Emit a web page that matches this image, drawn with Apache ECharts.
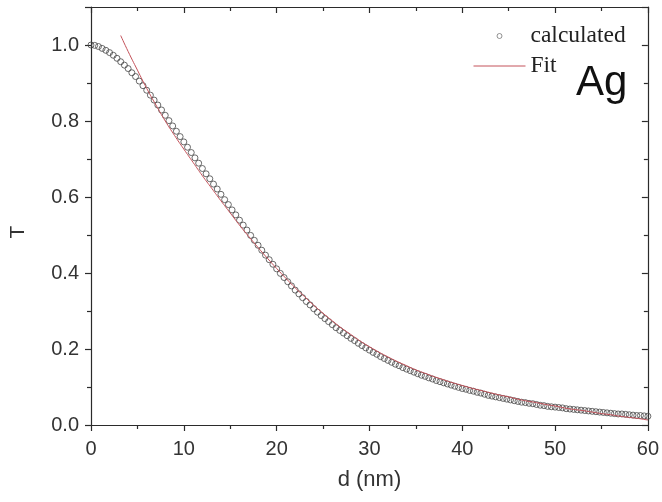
<!DOCTYPE html>
<html>
<head>
<meta charset="utf-8">
<title>T vs d — Ag</title>
<script src="https://cdn.jsdelivr.net/npm/echarts@6/dist/echarts.min.js"></script>
<style>
  html, body { margin: 0; padding: 0; background: #ffffff; }
  #chart { width: 662px; height: 502px; }
</style>
</head>
<body>
<div id="chart"></div>
<script>
// Calculated transmission T against film thickness d (nm)
const dCalc = [
  0.0, 0.4, 0.8, 1.2, 1.6, 2.0, 2.4, 2.8, 3.2, 3.6,
  4.0, 4.4, 4.8, 5.2, 5.6, 6.0, 6.4, 6.8, 7.2, 7.6,
  8.0, 8.4, 8.8, 9.2, 9.6, 10.0, 10.4, 10.8, 11.2, 11.6,
  12.0, 12.4, 12.8, 13.2, 13.6, 14.0, 14.4, 14.8, 15.2, 15.6,
  16.0, 16.4, 16.8, 17.2, 17.6, 18.0, 18.4, 18.8, 19.2, 19.6,
  20.0, 20.4, 20.8, 21.2, 21.6, 22.0, 22.4, 22.8, 23.2, 23.6,
  24.0, 24.4, 24.8, 25.2, 25.6, 26.0, 26.4, 26.8, 27.2, 27.6,
  28.0, 28.4, 28.8, 29.2, 29.6, 30.0, 30.4, 30.8, 31.2, 31.6,
  32.0, 32.4, 32.8, 33.2, 33.6, 34.0, 34.4, 34.8, 35.2, 35.6,
  36.0, 36.4, 36.8, 37.2, 37.6, 38.0, 38.4, 38.8, 39.2, 39.6,
  40.0, 40.4, 40.8, 41.2, 41.6, 42.0, 42.4, 42.8, 43.2, 43.6,
  44.0, 44.4, 44.8, 45.2, 45.6, 46.0, 46.4, 46.8, 47.2, 47.6,
  48.0, 48.4, 48.8, 49.2, 49.6, 50.0, 50.4, 50.8, 51.2, 51.6,
  52.0, 52.4, 52.8, 53.2, 53.6, 54.0, 54.4, 54.8, 55.2, 55.6,
  56.0, 56.4, 56.8, 57.2, 57.6, 58.0, 58.4, 58.8, 59.2, 59.6,
  60.0
];
const tCalc = [
  1.000, 0.999, 0.996, 0.991, 0.986, 0.980, 0.973, 0.965, 0.956, 0.947,
  0.938, 0.927, 0.917, 0.905, 0.893, 0.881, 0.868, 0.855, 0.842, 0.829,
  0.815, 0.801, 0.787, 0.773, 0.759, 0.745, 0.731, 0.717, 0.703, 0.689,
  0.675, 0.661, 0.648, 0.634, 0.621, 0.607, 0.593, 0.580, 0.566, 0.553,
  0.539, 0.526, 0.513, 0.499, 0.486, 0.473, 0.460, 0.447, 0.435, 0.423,
  0.411, 0.399, 0.388, 0.377, 0.366, 0.355, 0.345, 0.335, 0.325, 0.316,
  0.306, 0.297, 0.288, 0.280, 0.272, 0.264, 0.256, 0.249, 0.242, 0.235,
  0.228, 0.222, 0.215, 0.209, 0.203, 0.197, 0.191, 0.186, 0.180, 0.175,
  0.170, 0.165, 0.160, 0.156, 0.151, 0.147, 0.143, 0.139, 0.135, 0.131,
  0.128, 0.124, 0.121, 0.117, 0.114, 0.111, 0.108, 0.105, 0.102, 0.099,
  0.096, 0.094, 0.091, 0.089, 0.086, 0.084, 0.081, 0.078, 0.076, 0.074,
  0.072, 0.070, 0.068, 0.066, 0.064, 0.062, 0.060, 0.059, 0.057, 0.056,
  0.054, 0.052, 0.051, 0.049, 0.048, 0.047, 0.046, 0.045, 0.043, 0.042,
  0.041, 0.040, 0.039, 0.038, 0.037, 0.036, 0.035, 0.034, 0.033, 0.032,
  0.031, 0.030, 0.029, 0.029, 0.028, 0.027, 0.026, 0.025, 0.025, 0.024,
  0.023
];

// Fitted curve
const dFit = [
  3.2, 4, 5, 6, 7, 8, 9, 10, 11, 12, 13, 14, 15, 16, 17, 18, 19, 20,
  21, 22, 23, 24, 25, 26, 27, 28, 29, 30, 31, 32, 33, 34, 35, 36, 37, 38, 39, 40,
  41, 42, 43, 44, 45, 46, 47, 48, 49, 50, 51, 52, 53, 54, 55, 56, 57, 58, 59, 60
];
const tFit = [
  1.025, 0.983, 0.934, 0.886, 0.842, 0.800, 0.762, 0.726, 0.691, 0.656, 0.623, 0.590, 0.558, 0.526, 0.496, 0.467, 0.439, 0.412,
  0.386, 0.361, 0.338, 0.315, 0.294, 0.274, 0.255, 0.238, 0.221, 0.206, 0.192, 0.179, 0.167, 0.156, 0.145, 0.136, 0.127, 0.119, 0.111, 0.104,
  0.097, 0.091, 0.085, 0.079, 0.074, 0.068, 0.063, 0.059, 0.054, 0.050, 0.045, 0.041, 0.038, 0.034, 0.030, 0.027, 0.023, 0.020, 0.017, 0.013
];

const xTicks = { min: 0, max: 60, interval: 10 };
const yTicks = { min: 0, max: 1.1, interval: 0.2 };

const seriesNames = ['calculated', 'Fit'];
const panelLabel = 'Ag';

const AXIS = '#2b2b2b';
const FIT = '#c4525a';
const SANS = '"Liberation Sans", Arial, sans-serif';
const SERIF = '"Liberation Serif", "Times New Roman", serif';

const chart = echarts.init(document.getElementById('chart'), null, { renderer: 'canvas' });

function pairs(xs, ys) {
  return xs.map((x, i) => [x, ys[i]]);
}

const baseLine = { show: true, onZero: false, lineStyle: { color: AXIS, width: 1.2 } };
const tickStyle = { color: AXIS, width: 1.2 };

chart.setOption({
  backgroundColor: '#ffffff',
  animation: false,
  grid: { left: 86, right: 13, top: 7, bottom: 77, containLabel: false },
  title: {
    text: panelLabel,
    left: 571,
    top: 57,
    textStyle: { fontFamily: SANS, fontSize: 42, fontWeight: 'normal', color: '#111' }
  },
  legend: {
    orient: 'vertical',
    left: 468,
    top: 19,
    itemWidth: 52,
    itemHeight: 5,
    itemGap: 6,
    textStyle: { fontFamily: SERIF, fontSize: 23.5, lineHeight: 24, color: '#222' },
    data: [
      { name: seriesNames[0], icon: 'circle', itemStyle: { color: 'transparent', borderColor: '#777', borderWidth: 1 } },
      { name: seriesNames[1], itemStyle: { opacity: 0 }, lineStyle: { color: FIT, width: 1 } }
    ]
  },
  xAxis: [
    {
      type: 'value',
      position: 'bottom',
      min: xTicks.min, max: xTicks.max, interval: xTicks.interval,
      name: 'd (nm)',
      nameLocation: 'middle',
      nameGap: 44,
      nameTextStyle: { fontFamily: SANS, fontSize: 22, color: '#333' },
      axisLine: baseLine,
      axisTick: { show: true, inside: false, length: 6, lineStyle: tickStyle },
      minorTick: { show: true, splitNumber: 2, length: 4, lineStyle: tickStyle },
      axisLabel: { margin: 14, fontFamily: SANS, fontSize: 20, color: '#333' },
      splitLine: { show: false }
    },
    {
      type: 'value',
      position: 'top',
      min: xTicks.min, max: xTicks.max, interval: xTicks.interval,
      axisLine: baseLine,
      axisTick: { show: true, inside: true, length: 6, lineStyle: tickStyle },
      minorTick: { show: true, splitNumber: 2, length: 4, lineStyle: tickStyle },
      axisLabel: { show: false },
      splitLine: { show: false }
    }
  ],
  yAxis: [
    {
      type: 'value',
      position: 'left',
      min: yTicks.min, max: yTicks.max, interval: yTicks.interval,
      name: 'T',
      nameLocation: 'middle',
      nameGap: 62,
      nameTextStyle: { fontFamily: SANS, fontSize: 21, color: '#333', padding: [0, 32, 0, 0] },
      axisLine: baseLine,
      axisTick: { show: true, inside: false, length: 6, lineStyle: tickStyle },
      minorTick: { show: true, splitNumber: 2, length: 4, lineStyle: tickStyle },
      axisLabel: {
        margin: 12, fontFamily: SANS, fontSize: 20, color: '#333',
        showMaxLabel: false,
        formatter: v => v.toFixed(1)
      },
      splitLine: { show: false }
    },
    {
      type: 'value',
      position: 'right',
      min: yTicks.min, max: yTicks.max, interval: yTicks.interval,
      axisLine: baseLine,
      axisTick: { show: true, inside: true, length: 6, lineStyle: tickStyle },
      minorTick: { show: true, splitNumber: 2, length: 4, lineStyle: tickStyle },
      axisLabel: { show: false },
      splitLine: { show: false }
    }
  ],
  series: [
    {
      name: seriesNames[0],
      type: 'scatter',
      xAxisIndex: 0,
      yAxisIndex: 0,
      symbol: 'circle',
      symbolSize: 6,
      itemStyle: { color: 'transparent', borderColor: '#474747', borderWidth: 1 },
      data: pairs(dCalc, tCalc),
      z: 2
    },
    {
      name: seriesNames[1],
      type: 'line',
      xAxisIndex: 0,
      yAxisIndex: 0,
      symbol: 'none',
      smooth: true,
      lineStyle: { color: FIT, width: 1 },
      itemStyle: { color: FIT },
      data: pairs(dFit, tFit),
      z: 3
    }
  ]
});
</script>
</body>
</html>
